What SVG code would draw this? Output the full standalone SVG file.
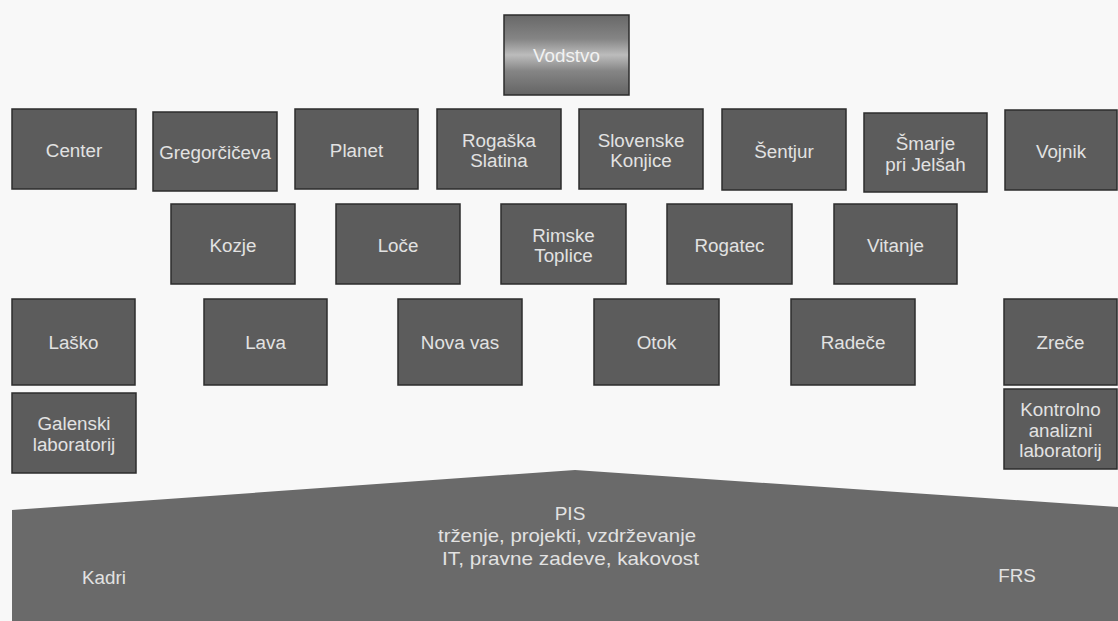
<svg xmlns="http://www.w3.org/2000/svg" width="1118" height="621" viewBox="0 0 1118 621">
  <defs>
    <linearGradient id="gVod" x1="0" y1="0" x2="0" y2="1">
      <stop offset="0" stop-color="#686868"/>
      <stop offset="0.3" stop-color="#858585"/>
      <stop offset="0.5" stop-color="#bcbcbc"/>
      <stop offset="0.7" stop-color="#858585"/>
      <stop offset="1" stop-color="#646464"/>
    </linearGradient>
  </defs>
  <style>
    .box { fill: #5c5c5c; stroke: #2c2c2c; stroke-width: 1.5; }
    .lbl { font-family: "Liberation Sans", Arial, sans-serif; font-size: 18.8px; fill: #e2e2e2; text-anchor: middle; }
    .big { font-family: "Liberation Sans", Arial, sans-serif; font-size: 19px; fill: #e2e2e2; text-anchor: middle; }
  </style>
  <rect x="0" y="0" width="1118" height="621" fill="#f8f8f8"/>

  <g id="connectors"></g>

  <g id="vodstvo">
    <rect x="504" y="15" width="125" height="80" fill="url(#gVod)" stroke="#2c2c2c" stroke-width="1.5"/>
    <text class="lbl" x="566.5" y="62" style="fill:#f2f2f2">Vodstvo</text>
  </g>

  <!-- Row 1 -->
  <g id="center"><rect class="box" x="12" y="109" width="124" height="80"/><text class="lbl" x="74" y="157">Center</text></g>
  <g id="gregorciceva"><rect class="box" x="153" y="112" width="124" height="79"/><text class="lbl" x="215" y="159">Gregorčičeva</text></g>
  <g id="planet"><rect class="box" x="295" y="109" width="123" height="80"/><text class="lbl" x="356.5" y="157">Planet</text></g>
  <g id="rogaska-slatina"><rect class="box" x="437" y="109" width="124" height="80"/><text class="lbl" x="499" y="147">Rogaška</text><text class="lbl" x="499" y="167">Slatina</text></g>
  <g id="slovenske-konjice"><rect class="box" x="579" y="109" width="124" height="80"/><text class="lbl" x="641" y="147">Slovenske</text><text class="lbl" x="641" y="167">Konjice</text></g>
  <g id="sentjur"><rect class="box" x="722" y="109" width="124" height="81"/><text class="lbl" x="784" y="158">Šentjur</text></g>
  <g id="smarje"><rect class="box" x="864" y="113" width="123" height="79"/><text class="lbl" x="925.5" y="150">Šmarje</text><text class="lbl" x="925.5" y="171">pri Jelšah</text></g>
  <g id="vojnik"><rect class="box" x="1005" y="110" width="112" height="80"/><text class="lbl" x="1061" y="158">Vojnik</text></g>

  <!-- Row 2 -->
  <g id="kozje"><rect class="box" x="171" y="204" width="124" height="80"/><text class="lbl" x="233" y="252">Kozje</text></g>
  <g id="loce"><rect class="box" x="336" y="204" width="124" height="80"/><text class="lbl" x="398" y="252">Loče</text></g>
  <g id="rimske-toplice"><rect class="box" x="501" y="204" width="125" height="80"/><text class="lbl" x="563.5" y="242">Rimske</text><text class="lbl" x="563.5" y="262">Toplice</text></g>
  <g id="rogatec"><rect class="box" x="667" y="204" width="125" height="80"/><text class="lbl" x="729.5" y="252">Rogatec</text></g>
  <g id="vitanje"><rect class="box" x="834" y="204" width="123" height="80"/><text class="lbl" x="895.5" y="252">Vitanje</text></g>

  <!-- Row 3 -->
  <g id="lasko"><rect class="box" x="12" y="299" width="123" height="86"/><text class="lbl" x="73.5" y="349">Laško</text></g>
  <g id="lava"><rect class="box" x="204" y="299" width="123" height="86"/><text class="lbl" x="265.5" y="349">Lava</text></g>
  <g id="nova-vas"><rect class="box" x="398" y="299" width="124" height="86"/><text class="lbl" x="460" y="349">Nova vas</text></g>
  <g id="otok"><rect class="box" x="594" y="299" width="125" height="86"/><text class="lbl" x="656.5" y="349">Otok</text></g>
  <g id="radece"><rect class="box" x="791" y="299" width="124" height="86"/><text class="lbl" x="853" y="349">Radeče</text></g>
  <g id="zrece"><rect class="box" x="1004" y="299" width="113" height="86"/><text class="lbl" x="1060.5" y="349">Zreče</text></g>

  <!-- Row 4 -->
  <g id="galenski-laboratorij"><rect class="box" x="12" y="393" width="124" height="80"/><text class="lbl" x="74" y="430">Galenski</text><text class="lbl" x="74" y="451">laboratorij</text></g>
  <g id="kontrolno-analizni-laboratorij"><rect class="box" x="1004" y="389" width="113" height="80"/><text class="lbl" x="1060.5" y="416">Kontrolno</text><text class="lbl" x="1060.5" y="437">analizni</text><text class="lbl" x="1060.5" y="457">laboratorij</text></g>

  <!-- Bottom support -->
  <g id="podpora">
    <polygon points="12,510 575,470 1118,507 1118,621 12,621" fill="#6a6a6a"/>
    <text class="big" x="570" y="520">PIS</text>
    <text class="big" x="567" y="542" textLength="258" lengthAdjust="spacingAndGlyphs">trženje, projekti, vzdrževanje</text>
    <text class="big" x="570.5" y="565" textLength="257" lengthAdjust="spacingAndGlyphs">IT, pravne zadeve, kakovost</text>
    <text class="lbl" x="104" y="584">Kadri</text>
    <text class="lbl" x="1017" y="582">FRS</text>
  </g>
</svg>
